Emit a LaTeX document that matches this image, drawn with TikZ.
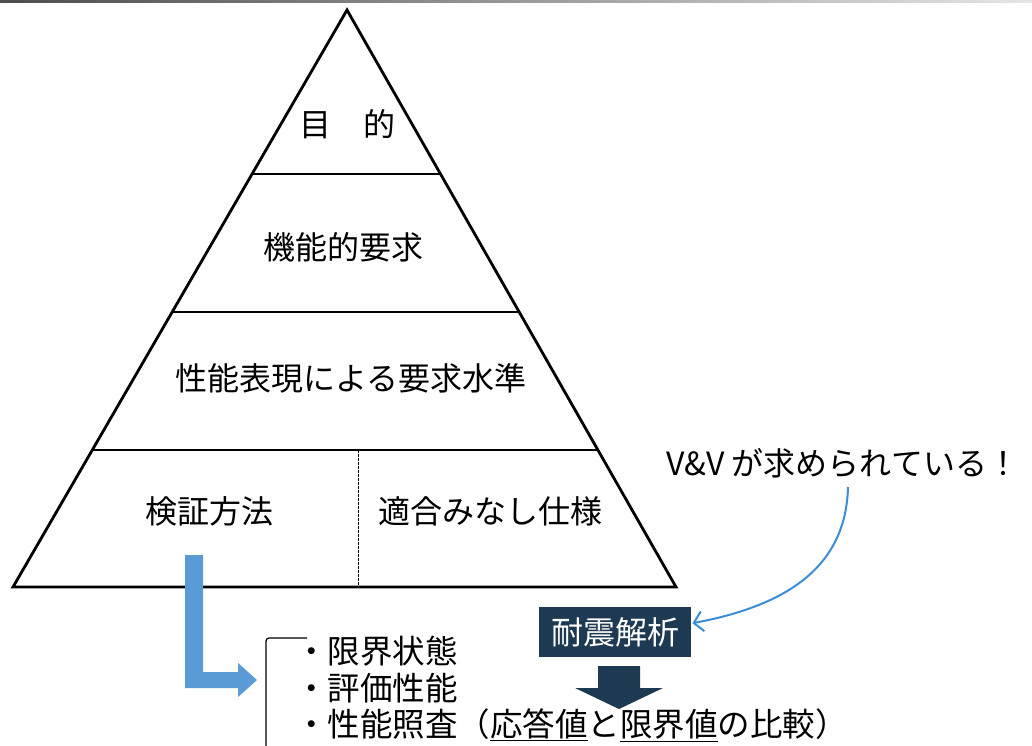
\documentclass[tikz,border=0pt]{standalone}
\usepackage{fontspec}
\setmainfont{Noto Sans CJK JP}
\usetikzlibrary{arrows.meta,calc}
\definecolor{navy}{HTML}{1E3A52}
\definecolor{lblue}{HTML}{5B9BD5}
\definecolor{cblue}{HTML}{3B8ED6}
\tikzset{
  lbl/.style={inner sep=0pt, font=\fontsize{32pt}{38pt}\selectfont},
  bul/.style={inner sep=0pt, anchor=west, font=\fontsize{32.5pt}{38pt}\selectfont},
  tri/.style={line width=2.8pt, line join=miter},
  divider/.style={line width=1.8pt},
}
\begin{document}
\begin{tikzpicture}[x=1pt,y=-1pt]
\useasboundingbox (0,0) rectangle (1032,745);
\fill[white] (0,0) rectangle (1032,745);
\shade[left color=black!70, right color=black!10] (0,0) rectangle (1032,2.5);
% triangle
\coordinate (A) at (347,10);
\coordinate (BL) at (13,587);
\coordinate (BR) at (676,587);
\draw[tri] (A) -- (BL) -- (BR) -- cycle;
\draw[divider] ($(A)!0.2842!(BL)$) -- ($(A)!0.2842!(BR)$);
\draw[divider] ($(A)!0.5234!(BL)$) -- ($(A)!0.5234!(BR)$);
\draw[divider] ($(A)!0.7626!(BL)$) -- ($(A)!0.7626!(BR)$);
\coordinate (dtop) at (358,450);
\coordinate (dbot) at (358,586);
\draw[line width=1pt, dash pattern=on 2.5pt off 1.5pt] (dtop) -- (dbot);
% labels in triangle
\node[lbl] (goal) at (347,124) {目\hspace{1em}的};
\node[lbl] (func) at (343,247) {機能的要求};
\node[lbl] (perf) at (351,378) {性能表現による要求水準};
\node[lbl] (veri) at (209,511) {検証方法};
\node[lbl] (spec) at (490,511) {適合みなし仕様};
% blue L arrow
\fill[lblue] (185,555) -- (203,555) -- (203,672) -- (238,672) -- (238,663) -- (257,680) -- (238,697) -- (238,688) -- (185,688) -- cycle;
% bracket
\draw[line width=1.2pt, rounded corners=3pt] (307,638) -- (266,638) -- (266,750);
% bullet list
\node[bul] (b1) at (295,651) {・限界状態};
\node[bul] (b2) at (295,688) {・評価性能};
\node[bul] (b3) at (295,725) {・性能照査（\underline{応答値}と\underline{限界値}の比較）};
% seismic analysis box
\node[lbl, fill=navy, text=white, minimum width=152pt, minimum height=50pt, anchor=north west] (sa) at (539,607) {耐震解析};
% dark down arrow
\fill[navy] (598,666) -- (640,666) -- (640,688) -- (663,688) -- (619,709) -- (575,688) -- (598,688) -- cycle;
% V&V label
\node[lbl, anchor=west] (vv) at (666,463) {V\&V が求められている！};
\coordinate (vvs) at (848,487);
\draw[cblue, line width=2pt, -{Straight Barb[length=9pt, width=20pt, line width=2pt]}]
  (vvs) .. controls (846,565) and (790,605) .. ($(sa.east)+(1,-9)$);
\end{tikzpicture}
\end{document}
